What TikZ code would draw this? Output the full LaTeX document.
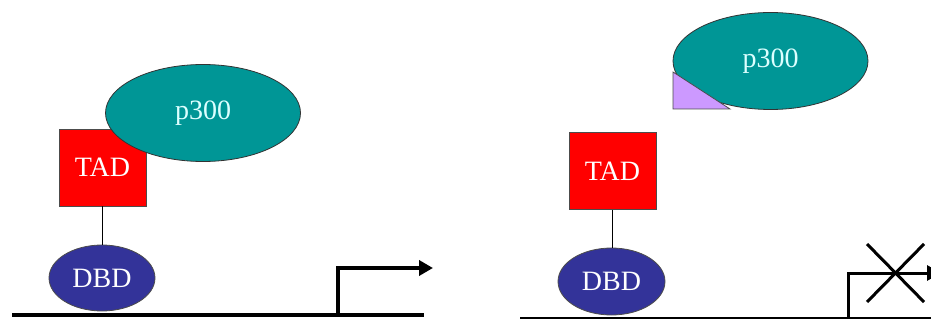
\documentclass[tikz,border=0pt]{standalone}
\usepackage{fontspec}
\setmainfont{Liberation Serif}
\usetikzlibrary{shapes.geometric,arrows.meta}

\definecolor{tadred}{RGB}{255,0,0}
\definecolor{dbdblue}{RGB}{51,51,153}
\definecolor{pteal}{RGB}{0,150,150}
\definecolor{plilac}{RGB}{204,153,255}
\definecolor{ptext}{RGB}{220,255,255}

\begin{document}
\begin{tikzpicture}[x=1pt,y=-1pt,
                    every node/.style={font=\fontsize{28}{30}\selectfont,inner sep=0pt},
                    tadbox/.style={rectangle,draw=black!70,line width=0.8pt,fill=tadred,text=white,minimum width=87pt,minimum height=77pt},
                    dbdblob/.style={ellipse,draw=black!70,line width=0.8pt,fill=dbdblue,text=white,minimum width=106pt,minimum height=66pt},
                    pblob/.style={ellipse,draw=black!80,line width=0.8pt,fill=pteal,text=ptext,minimum width=195pt,minimum height=97pt},
                    dna/.style={line width=3.5pt},
                    promoter/.style={line width=3.5pt,-{Triangle[length=14pt,width=15pt]}}
]
\useasboundingbox (0,0) rectangle (931,320);

% Left: p300 bound to the TAD, gene switched on
\node [tadbox] at (102.5,167.5) (tadL) {TAD};
\node [dbdblob] at (102,278) (dbdL) {DBD};
\node [pblob] at (203,113) (pL) {p300};

% TAD linked to DBD
\draw [line width=1pt] (tadL.south) -- (tadL.south |- dbdL.north);

% DNA and promoter arrow
\coordinate (dnaLa) at (12,315);
\coordinate (dnaLb) at (424,315);
\coordinate (startL) at (338,315);
\coordinate (tipL) at (433,268);
\draw [dna] (dnaLa) -- (dnaLb);
\draw [promoter] (startL) |- (tipL);

% Right: p300 blocked, gene switched off
\node [tadbox] at (612.5,171) (tadR) {TAD};
\node [dbdblob,minimum width=107pt,minimum height=67pt] at (611.5,281.5) (dbdR) {DBD};
\node [pblob] at (770.5,61) (pR) {p300};

% Block on p300
\draw [draw=black!70,line width=0.8pt,fill=plilac] (673,72) -- (673,109) -- (730,109) -- cycle;

% TAD linked to DBD
\draw [line width=1pt] (tadR.south) -- (tadR.south |- dbdR.north);

% DNA and promoter arrow, crossed out
\coordinate (dnaRa) at (520,318);
\coordinate (dnaRb) at (931,318);
\coordinate (startR) at (848,318);
\coordinate (tipR) at (941,273);
\draw [dna,line width=2.5pt] (dnaRa) -- (dnaRb);
\draw [promoter,line width=3pt] (startR) |- (tipR);
\draw [line width=3pt] (867,244) -- (924,302);
\draw [line width=3pt] (924,244) -- (867,302);

\end{tikzpicture}
\end{document}
